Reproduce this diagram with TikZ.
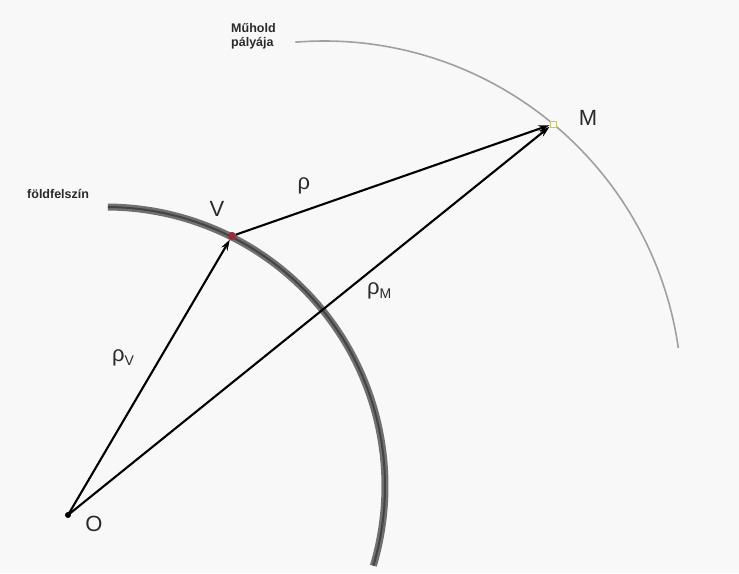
\documentclass[tikz,border=0pt]{standalone}
\usepackage{fontspec}
\setmainfont{Liberation Sans}
\usetikzlibrary{arrows.meta}
\definecolor{bgc}{HTML}{F8F8F8}
\definecolor{earthc}{HTML}{707070}
\definecolor{earthcore}{HTML}{444444}
\definecolor{orbitc}{HTML}{A0A0A0}
\definecolor{vdot}{HTML}{9A2A3A}
\definecolor{mbox}{HTML}{C8C860}
\definecolor{txt}{HTML}{2A2A2A}
\begin{document}
\begin{tikzpicture}[x=1pt,y=-1pt,
  vec/.style={line width=2.1pt, black, -{Stealth[length=11pt,width=7pt]}},
  lbl/.style={font=\fontsize{22}{22}\selectfont, text=txt, inner sep=0},
  smalltxt/.style={font=\bfseries\fontsize{12.5}{14}\selectfont, text=txt, align=left, inner sep=0, anchor=north west}]
\fill[bgc] (0,0) rectangle (739,573);
\useasboundingbox (0,0) rectangle (739,573);
% earth surface
\draw[line width=7pt, earthc] (106,486) ++(-89.6:279) arc[start angle=-89.6, end angle=16.6, radius=279];
\draw[line width=2pt, earthcore] (106,486) ++(-89.6:279) arc[start angle=-89.6, end angle=16.6, radius=279];
% satellite orbit
\draw[line width=1.6pt, orbitc] (324,399) ++(-94.6:358) arc[start angle=-94.6, end angle=-8.2, radius=358];
% points
\node[circle, fill=black, inner sep=0, minimum size=6pt] (O) at (68,515) {};
\node[circle, fill=vdot, inner sep=0, minimum size=8pt] (V) at (232,236) {};
\node[draw=mbox, fill=bgc, rectangle, inner sep=0, minimum size=6pt, line width=1pt] (M) at (553,124) {};
% vectors
\draw[vec] (O.center) -- (V);
\draw[vec] (O.center) -- (M);
\draw[vec] (V) -- (M);
\node[circle, fill=vdot, inner sep=0, minimum size=8pt] (V2) at (V) {};
% labels
\node[lbl] (Vl) at (217,209) {V};
\node[lbl] (Ml) at (588,118) {M};
\node[lbl] (Ol) at (94,524) {O};
\node[lbl] (rho) at (304,186) {ρ};
\node[lbl, anchor=west] (rhoV) at (112,358) {ρ\raisebox{-4pt}{\fontsize{14}{14}\selectfont V}};
\node[lbl, anchor=west] (rhoM) at (367,291) {ρ\raisebox{-4pt}{\fontsize{14}{14}\selectfont M}};
\node[smalltxt] (sat) at (231,23) {Műhold\\pályája};
\node[smalltxt] (surf) at (27,189) {földfelszín};
\end{tikzpicture}
\end{document}
